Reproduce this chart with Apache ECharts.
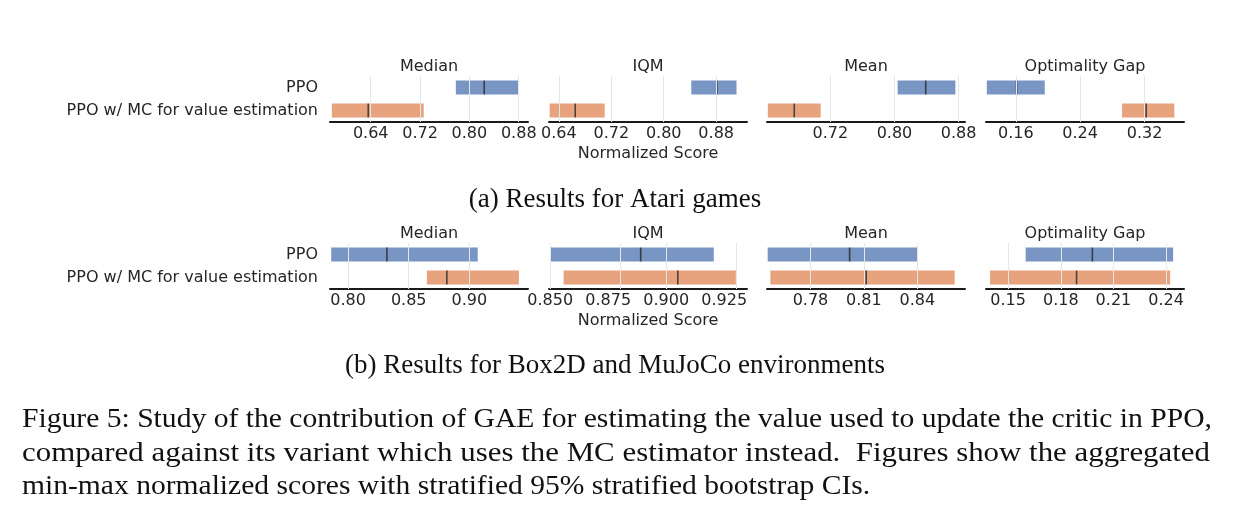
<!DOCTYPE html>
<html lang="en">
<head>
  <meta charset="UTF-8">
  <title>GAE vs MC</title>
  <style>
    html, body { margin: 0; padding: 0; background: #fff; }
    #main { width: 1248px; height: 518px; }
  </style>
</head>
<body>
  <div id="main"></div>
<script src="https://cdn.jsdelivr.net/npm/echarts@6/dist/echarts.min.js"></script>
<script>
  var metrics = ['Median', 'IQM', 'Mean', 'Optimality Gap'];
  var algos = ['PPO', 'PPO w/ MC for value estimation'];

  // [low, high, point estimate] for each metric
  var atariPPO = [[0.778, 0.880, 0.824], [0.842, 0.911, 0.881], [0.804, 0.876, 0.839], [0.124, 0.196, 0.161]];
  var atariMC = [[0.577, 0.726, 0.636], [0.626, 0.710, 0.665], [0.642, 0.708, 0.675], [0.292, 0.357, 0.322]];
  var boxPPO = [[0.786, 0.907, 0.832], [0.850, 0.9205, 0.889], [0.756, 0.840, 0.802], [0.160, 0.244, 0.198]];
  var boxMC = [[0.865, 0.941, 0.8815], [0.8558, 0.930, 0.905], [0.7575, 0.861, 0.8113], [0.1397, 0.2423, 0.189]];

  // tick labels and axis limits
  var atariTicks = [[0.64, 0.72, 0.80, 0.88], [0.64, 0.72, 0.80, 0.88], [0.72, 0.80, 0.88], [0.16, 0.24, 0.32]];
  var boxTicks = [[0.80, 0.85, 0.90], [0.850, 0.875, 0.900, 0.925], [0.78, 0.81, 0.84], [0.15, 0.18, 0.21, 0.24]];
  var atariDigits = [2, 2, 2, 2];
  var boxDigits = [2, 3, 2, 2];
  var atariRange = [[0.574, 0.895], [0.625, 0.927], [0.641, 0.888], [0.123, 0.369]];
  var boxRange = [[0.785, 0.9485], [0.8495, 0.9348], [0.7556, 0.8668], [0.1374, 0.2502]];

  var colors = ['rgba(76,114,176,0.75)', 'rgba(221,132,82,0.75)'];
  var font = 'DejaVu Sans';
  var serif = 'Liberation Serif';

  var panelLeft = [330, 549, 767, 986];
  var panelW = 198;
  var rows = [
    { top: 76, ppo: atariPPO, mc: atariMC, ticks: atariTicks, digits: atariDigits, range: atariRange },
    { top: 243, ppo: boxPPO, mc: boxMC, ticks: boxTicks, digits: boxDigits, range: boxRange }
  ];
  var gridH = 46;

  var grid = [], xAxis = [], yAxis = [], series = [], graphic = [];

  rows.forEach(function (row, r) {
    for (var m = 0; m < metrics.length; m++) {
      var idx = grid.length;
      grid.push({ left: panelLeft[m], top: row.top, width: panelW, height: gridH });
      (function (d) {
        xAxis.push({
          gridIndex: idx, type: 'value', min: row.range[m][0], max: row.range[m][1],
          axisLine: { show: true, onZero: false, lineStyle: { color: '#1a1a1a', width: 2 } },
          axisTick: { show: false },
          splitLine: { show: false },
          axisLabel: {
            customValues: row.ticks[m], fontFamily: font, fontSize: 16, color: '#262626', margin: 4,
            formatter: function (v) { return Number(v).toFixed(d); }
          }
        });
      })(row.digits[m]);
      yAxis.push({
        gridIndex: idx, type: 'category', inverse: true, data: algos,
        axisLine: { show: false }, axisTick: { show: false }, splitLine: { show: false },
        axisLabel: { show: m === 0, fontFamily: font, fontSize: 16, color: '#262626', margin: 12 }
      });
      var data = [
        [0, row.ppo[m][0], row.ppo[m][1], row.ppo[m][2]],
        [1, row.mc[m][0], row.mc[m][1], row.mc[m][2]]
      ];
      series.push({
        type: 'custom', xAxisIndex: idx, yAxisIndex: idx, data: data,
        encode: { x: [1, 2, 3], y: 0 },
        renderItem: function (params, api) {
          var cat = api.value(0);
          var a = api.coord([api.value(1), cat]);
          var b = api.coord([api.value(2), cat]);
          var c = api.coord([api.value(3), cat]);
          var h = api.size([0, 1])[1] * 0.6;
          return {
            type: 'group',
            children: [
              { type: 'rect', shape: { x: a[0], y: a[1] - h / 2, width: b[0] - a[0], height: h },
                style: { fill: colors[cat] } },
              { type: 'line', shape: { x1: c[0], y1: c[1] - h / 2, x2: c[0], y2: c[1] + h / 2 },
                style: { stroke: 'rgba(40,40,40,0.8)', lineWidth: 1.6 } }
            ]
          };
        },
        markLine: {
          silent: true, symbol: 'none', animation: false,
          label: { show: false },
          lineStyle: { color: '#e6e6e6', width: 1, type: 'solid' },
          data: row.ticks[m].map(function (v) { return { xAxis: v }; })
        }
      });
      graphic.push({
        type: 'text', x: panelLeft[m] + panelW / 2, y: row.top - 9,
        style: { text: metrics[m], font: '16px "' + font + '"', fill: '#262626', textAlign: 'center', textVerticalAlign: 'middle' }
      });
    }
    graphic.push({
      type: 'text', x: 648, y: row.top + gridH + 32,
      style: { text: 'Normalized Score', font: '16px "' + font + '"', fill: '#262626', textAlign: 'center', textVerticalAlign: 'middle' }
    });
  });

  graphic.push({
    type: 'text', x: 615, y: 200,
    style: { text: '(a) Results for Atari games', font: '27px "' + serif + '"', fill: '#111', textAlign: 'center', textVerticalAlign: 'middle' }
  });
  graphic.push({
    type: 'text', x: 615, y: 366,
    style: { text: '(b) Results for Box2D and MuJoCo environments', font: '27px "' + serif + '"', fill: '#111', textAlign: 'center', textVerticalAlign: 'middle' }
  });

  // caption: first two lines are justified to the text block width
  var caption = [
    'Figure 5: Study of the contribution of GAE for estimating the value used to update the critic in PPO,',
    'compared against its variant which uses the MC estimator instead.  Figures show the aggregated',
    'min-max normalized scores with stratified 95% stratified bootstrap CIs.'
  ];
  var captionWidth = [1190, 1188, 0];
  var capFont = '27px "' + serif + '"';
  var ctx = document.createElement('canvas').getContext('2d');
  ctx.font = capFont;
  caption.forEach(function (t, i) {
    var w = ctx.measureText(t).width;
    var sx = captionWidth[i] ? captionWidth[i] / w : 1.095;
    graphic.push({
      type: 'text', x: 22, y: 420 + i * 33.5, scaleX: sx,
      style: { text: t, font: capFont, fill: '#111', textAlign: 'left', textVerticalAlign: 'middle' }
    });
  });

  var myChart = echarts.init(document.getElementById('main'));
  myChart.setOption({
    animation: false,
    grid: grid,
    xAxis: xAxis,
    yAxis: yAxis,
    series: series,
    graphic: graphic
  });
</script>
</body>
</html>
